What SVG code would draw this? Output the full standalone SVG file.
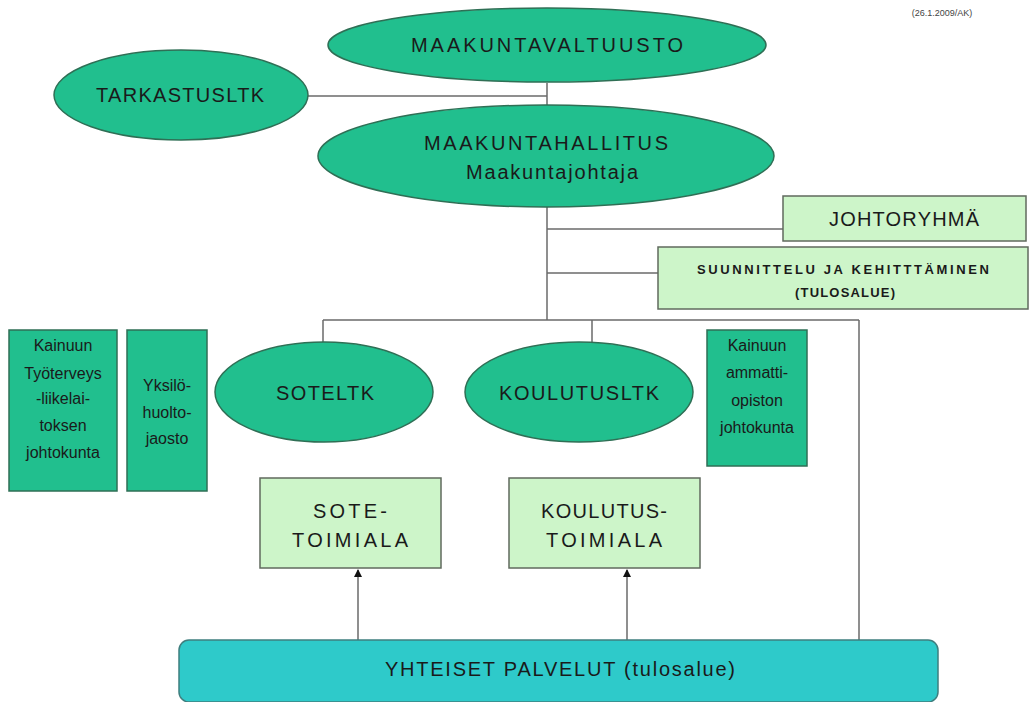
<svg xmlns="http://www.w3.org/2000/svg" width="1033" height="702" viewBox="0 0 1033 702">
<style>
.ell{fill:#21bf8e;stroke:#2f6f55;stroke-width:1.5}
.dbox{fill:#21bf8e;stroke:#2f6f55;stroke-width:1.5}
.lbox{fill:#cdf5c9;stroke:#606a5e;stroke-width:1.5}
.ybox{fill:#2ecaca;stroke:#3f7f7f;stroke-width:1.5}
.ln{stroke:#6a6a6a;stroke-width:1.5;fill:none}
text{font-family:"Liberation Sans","DejaVu Sans",sans-serif;fill:#1a1a1a;text-anchor:middle}
.t18{font-size:20px}
.t15{font-size:16px}
.b{font-size:13px;font-weight:bold}
</style>
<defs>
<marker id="ah" markerWidth="8" markerHeight="8" refX="7" refY="4" orient="auto" markerUnits="userSpaceOnUse">
<path d="M0,0 L8,4 L0,8 z" fill="#111"/>
</marker>
</defs>
<rect width="1033" height="702" fill="#ffffff"/>
<text x="942" y="16" style="font-size:9px;fill:#444">(26.1.2009/AK)</text>
<g id="connectors">
<line class="ln" x1="547" y1="83" x2="547" y2="105"/>
<line class="ln" x1="308" y1="96" x2="547" y2="96"/>
<line class="ln" x1="547" y1="207" x2="547" y2="320"/>
<line class="ln" x1="547" y1="229" x2="783" y2="229"/>
<line class="ln" x1="547" y1="273" x2="658" y2="273"/>
<line class="ln" x1="323" y1="320" x2="859" y2="320"/>
<line class="ln" x1="323" y1="320" x2="323" y2="343"/>
<line class="ln" x1="592" y1="320" x2="592" y2="343"/>
<line class="ln" x1="859" y1="320" x2="859" y2="640"/>
<line class="ln" x1="358" y1="640" x2="358" y2="570" marker-end="url(#ah)"/>
<line class="ln" x1="627" y1="640" x2="627" y2="570" marker-end="url(#ah)"/>
</g>
<g id="maakuntavaltuusto">
<ellipse class="ell" cx="547" cy="45" rx="219" ry="37"/>
<text class="t18" x="547" y="52" textLength="272" lengthAdjust="spacing">MAAKUNTAVALTUUSTO</text>
</g>
<g id="tarkastusltk">
<ellipse class="ell" cx="181" cy="95" rx="127" ry="45"/>
<text class="t18" x="180" y="102" textLength="168" lengthAdjust="spacing">TARKASTUSLTK</text>
</g>
<g id="maakuntahallitus">
<ellipse class="ell" cx="546" cy="156" rx="228" ry="51"/>
<text class="t18" x="546" y="150" textLength="244" lengthAdjust="spacing">MAAKUNTAHALLITUS</text>
<text class="t18" x="552" y="179" textLength="172" lengthAdjust="spacing">Maakuntajohtaja</text>
</g>
<g id="johtoryhma">
<rect class="lbox" x="783" y="196" width="243" height="45"/>
<text class="t18" x="904" y="226" textLength="150" lengthAdjust="spacing">JOHTORYHMÄ</text>
</g>
<g id="suunnittelu">
<rect class="lbox" x="658" y="247" width="370" height="62"/>
<text class="b" x="843" y="274" textLength="292" lengthAdjust="spacing">SUUNNITTELU JA KEHITTTÄMINEN</text>
<text class="b" x="845" y="297" textLength="100" lengthAdjust="spacing">(TULOSALUE)</text>
</g>
<g id="tyoterveys">
<rect class="dbox" x="9" y="330" width="108" height="161"/>
<text class="t15" x="63" y="351">Kainuun</text>
<text class="t15" x="63" y="379">Työterveys</text>
<text class="t15" x="63" y="404">-liikelai-</text>
<text class="t15" x="63" y="431">toksen</text>
<text class="t15" x="63" y="458">johtokunta</text>
</g>
<g id="yksilohuolto">
<rect class="dbox" x="127" y="330" width="80" height="161"/>
<text class="t15" x="167" y="391">Yksilö-</text>
<text class="t15" x="167" y="418">huolto-</text>
<text class="t15" x="167" y="444">jaosto</text>
</g>
<g id="soteltk">
<ellipse class="ell" cx="324" cy="392" rx="109" ry="50"/>
<text class="t18" x="325" y="400" textLength="98" lengthAdjust="spacing">SOTELTK</text>
</g>
<g id="koulutusltk">
<ellipse class="ell" cx="579" cy="392" rx="114" ry="50"/>
<text class="t18" x="579" y="400" textLength="160" lengthAdjust="spacing">KOULUTUSLTK</text>
</g>
<g id="ammattiopisto">
<rect class="dbox" x="707" y="330" width="100" height="136"/>
<text class="t15" x="757" y="351">Kainuun</text>
<text class="t15" x="757" y="378">ammatti-</text>
<text class="t15" x="757" y="406">opiston</text>
<text class="t15" x="757" y="433">johtokunta</text>
</g>
<g id="sotetoimiala">
<rect class="lbox" x="260" y="478" width="181" height="90"/>
<text class="t18" x="350" y="518" textLength="74" lengthAdjust="spacing">SOTE-</text>
<text class="t18" x="350" y="547" textLength="116" lengthAdjust="spacing">TOIMIALA</text>
</g>
<g id="koulutustoimiala">
<rect class="lbox" x="509" y="478" width="191" height="90"/>
<text class="t18" x="604" y="518" textLength="126" lengthAdjust="spacing">KOULUTUS-</text>
<text class="t18" x="604" y="547" textLength="116" lengthAdjust="spacing">TOIMIALA</text>
</g>
<g id="yhteiset">
<rect class="ybox" x="179" y="640" width="759" height="62" rx="10" ry="10"/>
<text class="t18" x="560" y="676" textLength="350" lengthAdjust="spacing">YHTEISET PALVELUT (tulosalue)</text>
</g>
</svg>
